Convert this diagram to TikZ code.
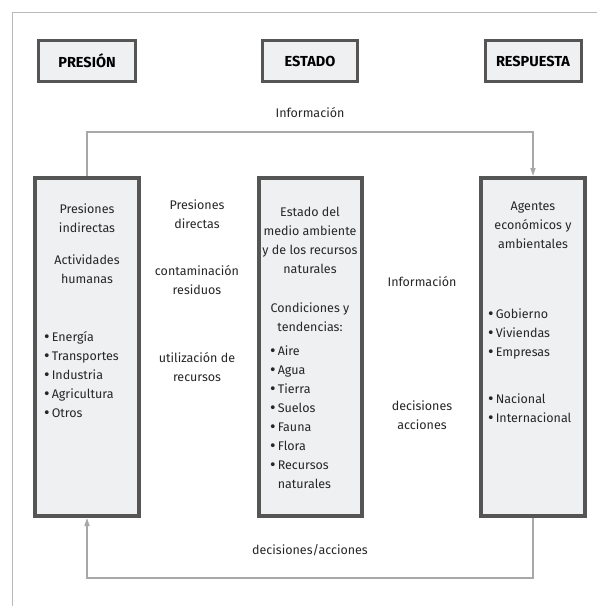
\documentclass[tikz,border=0pt]{standalone}
\usepackage{fontspec}
\setmainfont{Fira Sans}
\usepackage{tikz}
\usetikzlibrary{arrows.meta,positioning}
\usepackage{xcolor}

\definecolor{bordegris}{HTML}{555555}
\definecolor{fondogris}{HTML}{EEF0F2}
\definecolor{lineagris}{HTML}{A8A8A8}

% heavier bullet for the lists
\newcommand{\vineta}{\raisebox{-1pt}{\fontsize{17}{19}\selectfont •}\,}

\begin{document}
\begin{tikzpicture}[x=1pt,y=-1pt]
    \tikzstyle{header} = [rectangle, draw=bordegris, line width=3pt, fill=fondogris,
               minimum height=41pt, inner sep=0pt,
               font=\fontsize{14.5}{16}\selectfont\bfseries]
    \tikzstyle{column} = [rectangle, draw=bordegris, line width=4pt, fill=fondogris,
               minimum width=104pt, minimum height=338pt]
    \tikzstyle{label} = [align=center, inner sep=0pt, text=black!85,
               font=\fontsize{12.5}{19}\selectfont]
    \tikzstyle{list} = [align=left, anchor=west, inner sep=0pt, text=black!85,
               font=\fontsize{12.5}{19}\selectfont]
    \tikzstyle{line} = [draw=lineagris, line width=1.6pt,
               -{Triangle[length=8pt,width=5pt]}]

    \useasboundingbox (0,0) rectangle (597,606);

    % outer frame
    \draw[lineagris!80, line width=1pt] (12,606) -- (12,12) -- (597,12);

    % headers
    \node[header, minimum width=97pt] (presion) at (87,61) {PRESIÓN};
    \node[header, minimum width=95pt] (estado) at (310,61) {ESTADO};
    \node[header, minimum width=96pt] (respuesta) at (533,61) {RESPUESTA};

    % columns
    \node[column] (pbox) at (87,347) {};
    \node[column, minimum width=103pt] (ebox) at (310,347) {};
    \node[column] (rbox) at (533,347) {};

    % presion column
    \node[label] (pind) at (87,218) {Presiones\\indirectas};
    \node[label] (pact) at (87,269) {Actividades\\humanas};
    \node[list] (plist) at (44,375) {\vineta Energía\\\vineta Transportes\\\vineta Industria\\\vineta Agricultura\\\vineta Otros};

    % estado column
    \node[label] (eest) at (310,240) {Estado del\\medio ambiente\\y de los recursos\\naturales};
    \node[label] (econd) at (310,317) {Condiciones y\\tendencias:};
    \node[list] (elist) at (270,418) {\vineta Aire\\\vineta Agua\\\vineta Tierra\\\vineta Suelos\\\vineta Fauna\\\vineta Flora\\\vineta Recursos\\\phantom{\vineta}naturales};

    % respuesta column
    \node[label] (ragt) at (533,225) {Agentes\\económicos y\\ambientales};
    \node[list] (rlist) at (488,334) {\vineta Gobierno\\\vineta Viviendas\\\vineta Empresas};
    \node[list] (rnac) at (488,409) {\vineta Nacional\\\vineta Internacional};

    % labels between columns
    \node[label] (directas) at (197,214) {Presiones\\directas};
    \node[label] (contam) at (197,280) {contaminación\\residuos};
    \node[label] (utiliz) at (197,367) {utilización de\\recursos};
    \node[label] (infomid) at (422,282) {Información};
    \node[label] (decmid) at (422,415) {decisiones\\acciones};

    % feedback loops
    \coordinate (arriba) at (310,132);
    \coordinate (abajo) at (310,578);
    \node[label] (infotop) at (310,113) {Información};
    \node[label] (decbot) at (310,550) {decisiones/acciones};

    \draw[line] (pbox.north) |- (arriba) -| (rbox.north);
    \draw[line] (rbox.south) |- (abajo) -| (pbox.south);
\end{tikzpicture}
\end{document}
